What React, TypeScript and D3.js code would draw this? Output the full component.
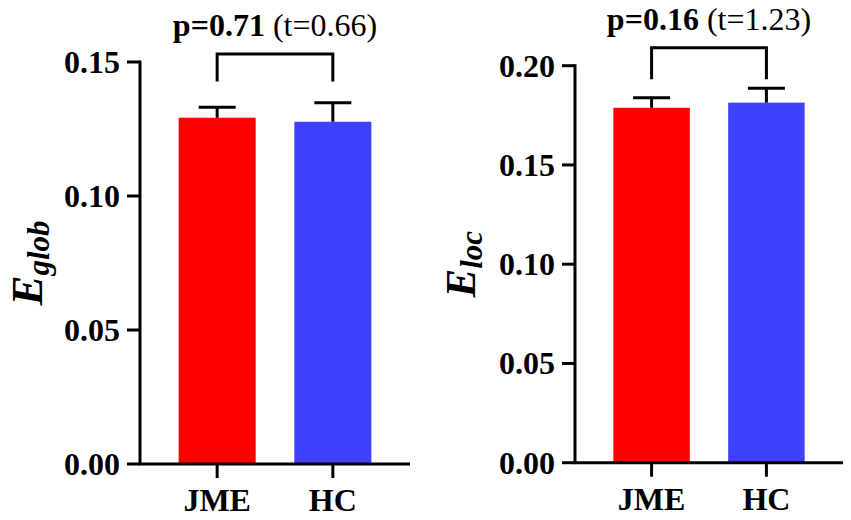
import * as d3 from "d3";

const WIDTH = 851;
const HEIGHT = 520;
const FONT = '"Liberation Serif", "Times New Roman", serif';

const GROUPS = ["JME", "HC"];
const COLORS = ["#ff0000", "#4040ff"];

// global efficiency
const EGLOB_MEAN = [0.1292, 0.1277];
const EGLOB_ERR = [0.0039, 0.0071];
const EGLOB_TICKS = [0, 0.05, 0.1, 0.15];

// local efficiency
const ELOC_MEAN = [0.1788, 0.1814];
const ELOC_ERR = [0.0051, 0.0072];
const ELOC_TICKS = [0, 0.05, 0.1, 0.15, 0.2];

type PanelProps = {
  means: number[];
  errs: number[];
  ticks: number[];
  x0: number;
  x1: number;
  yTop: number;
  yBottom: number;
  titleX: number;
  titleSize: number;
  sub: string;
  pText: string;
  tText: string;
  bracketTop: number;
  bracketLeg: number;
};

function Panel({
  means,
  errs,
  ticks,
  x0,
  x1,
  yTop,
  yBottom,
  titleX,
  titleSize,
  sub,
  pText,
  tText,
  bracketTop,
  bracketLeg,
}: PanelProps) {
  const yMax = ticks[ticks.length - 1];
  const y = d3.scaleLinear().domain([0, yMax]).range([yBottom, yTop]);
  const x = d3
    .scaleBand()
    .domain(GROUPS)
    .range([x0, x1])
    .paddingInner(0.334)
    .paddingOuter(0.334);
  const bw = x.bandwidth();
  const cx = (g: string) => (x(g) ?? 0) + bw / 2;
  const capHalf = 18.5;
  const mid = (cx(GROUPS[0]) + cx(GROUPS[1])) / 2;

  return (
    <g>
      {/* bars */}
      {GROUPS.map((g, i) => (
        <rect
          key={g}
          x={x(g)}
          y={y(means[i])}
          width={bw}
          height={yBottom - y(means[i])}
          fill={COLORS[i]}
        />
      ))}

      {/* error bars, upper only */}
      {GROUPS.map((g, i) => {
        const top = y(means[i] + errs[i]);
        return (
          <g key={g} stroke="#000" strokeWidth={3}>
            <line x1={cx(g)} x2={cx(g)} y1={y(means[i])} y2={top} />
            <line x1={cx(g) - capHalf} x2={cx(g) + capHalf} y1={top} y2={top} />
          </g>
        );
      })}

      {/* axes */}
      <g stroke="#000" strokeWidth={3} fill="none">
        <line x1={x0} x2={x0} y1={yTop - 1.5} y2={yBottom} />
        <line x1={x0 - 1.5} x2={x1} y1={yBottom} y2={yBottom} />
        {ticks.map((t) => (
          <line key={t} x1={x0 - 13} x2={x0} y1={y(t)} y2={y(t)} />
        ))}
        {GROUPS.map((g) => (
          <line key={g} x1={cx(g)} x2={cx(g)} y1={yBottom} y2={yBottom + 14} />
        ))}
      </g>

      {/* tick labels */}
      {ticks.map((t) => (
        <text
          key={t}
          x={x0 - 20}
          y={y(t)}
          dy="0.34em"
          textAnchor="end"
          fontFamily={FONT}
          fontWeight="bold"
          fontSize={32}
        >
          {d3.format(".2f")(t)}
        </text>
      ))}
      {GROUPS.map((g) => (
        <text
          key={g}
          x={cx(g)}
          y={yBottom + 47}
          textAnchor="middle"
          fontFamily={FONT}
          fontWeight="bold"
          fontSize={32}
        >
          {g}
        </text>
      ))}

      {/* y title */}
      <text
        transform={`translate(${titleX},${(yTop + yBottom) / 2}) rotate(-90)`}
        textAnchor="middle"
        fontFamily={FONT}
        fontWeight="bold"
        fontStyle="italic"
        fontSize={titleSize}
      >
        E
        <tspan fontSize={31} dy={7}>
          {sub}
        </tspan>
      </text>

      {/* significance bracket */}
      <path
        d={`M${cx(GROUPS[0])},${y(bracketLeg)}V${y(bracketTop)}H${cx(GROUPS[1])}V${y(bracketLeg)}`}
        stroke="#000"
        strokeWidth={3}
        fill="none"
      />
      <text
        x={mid}
        y={y(bracketTop) - 18}
        textAnchor="middle"
        fontFamily={FONT}
        fontSize={32}
      >
        <tspan fontWeight="bold">{pText}</tspan> {tText}
      </text>
    </g>
  );
}

export default function App() {
  return (
    <svg
      width={WIDTH}
      height={HEIGHT}
      viewBox={`0 0 ${WIDTH} ${HEIGHT}`}
      style={{ position: "absolute", left: 0, top: 0, background: "#fff" }}
    >
      <Panel
        means={EGLOB_MEAN}
        errs={EGLOB_ERR}
        ticks={EGLOB_TICKS}
        x0={140}
        x1={410}
        yTop={62}
        yBottom={464}
        titleX={42}
        titleSize={45}
        sub="glob"
        pText="p=0.71"
        tText="(t=0.66)"
        bracketTop={0.153}
        bracketLeg={0.1427}
      />
      <Panel
        means={ELOC_MEAN}
        errs={ELOC_ERR}
        ticks={ELOC_TICKS}
        x0={575}
        x1={843}
        yTop={65.7}
        yBottom={462.7}
        titleX={475}
        titleSize={43}
        sub="loc"
        pText="p=0.16"
        tText="(t=1.23)"
        bracketTop={0.209}
        bracketLeg={0.1932}
      />
    </svg>
  );
}
